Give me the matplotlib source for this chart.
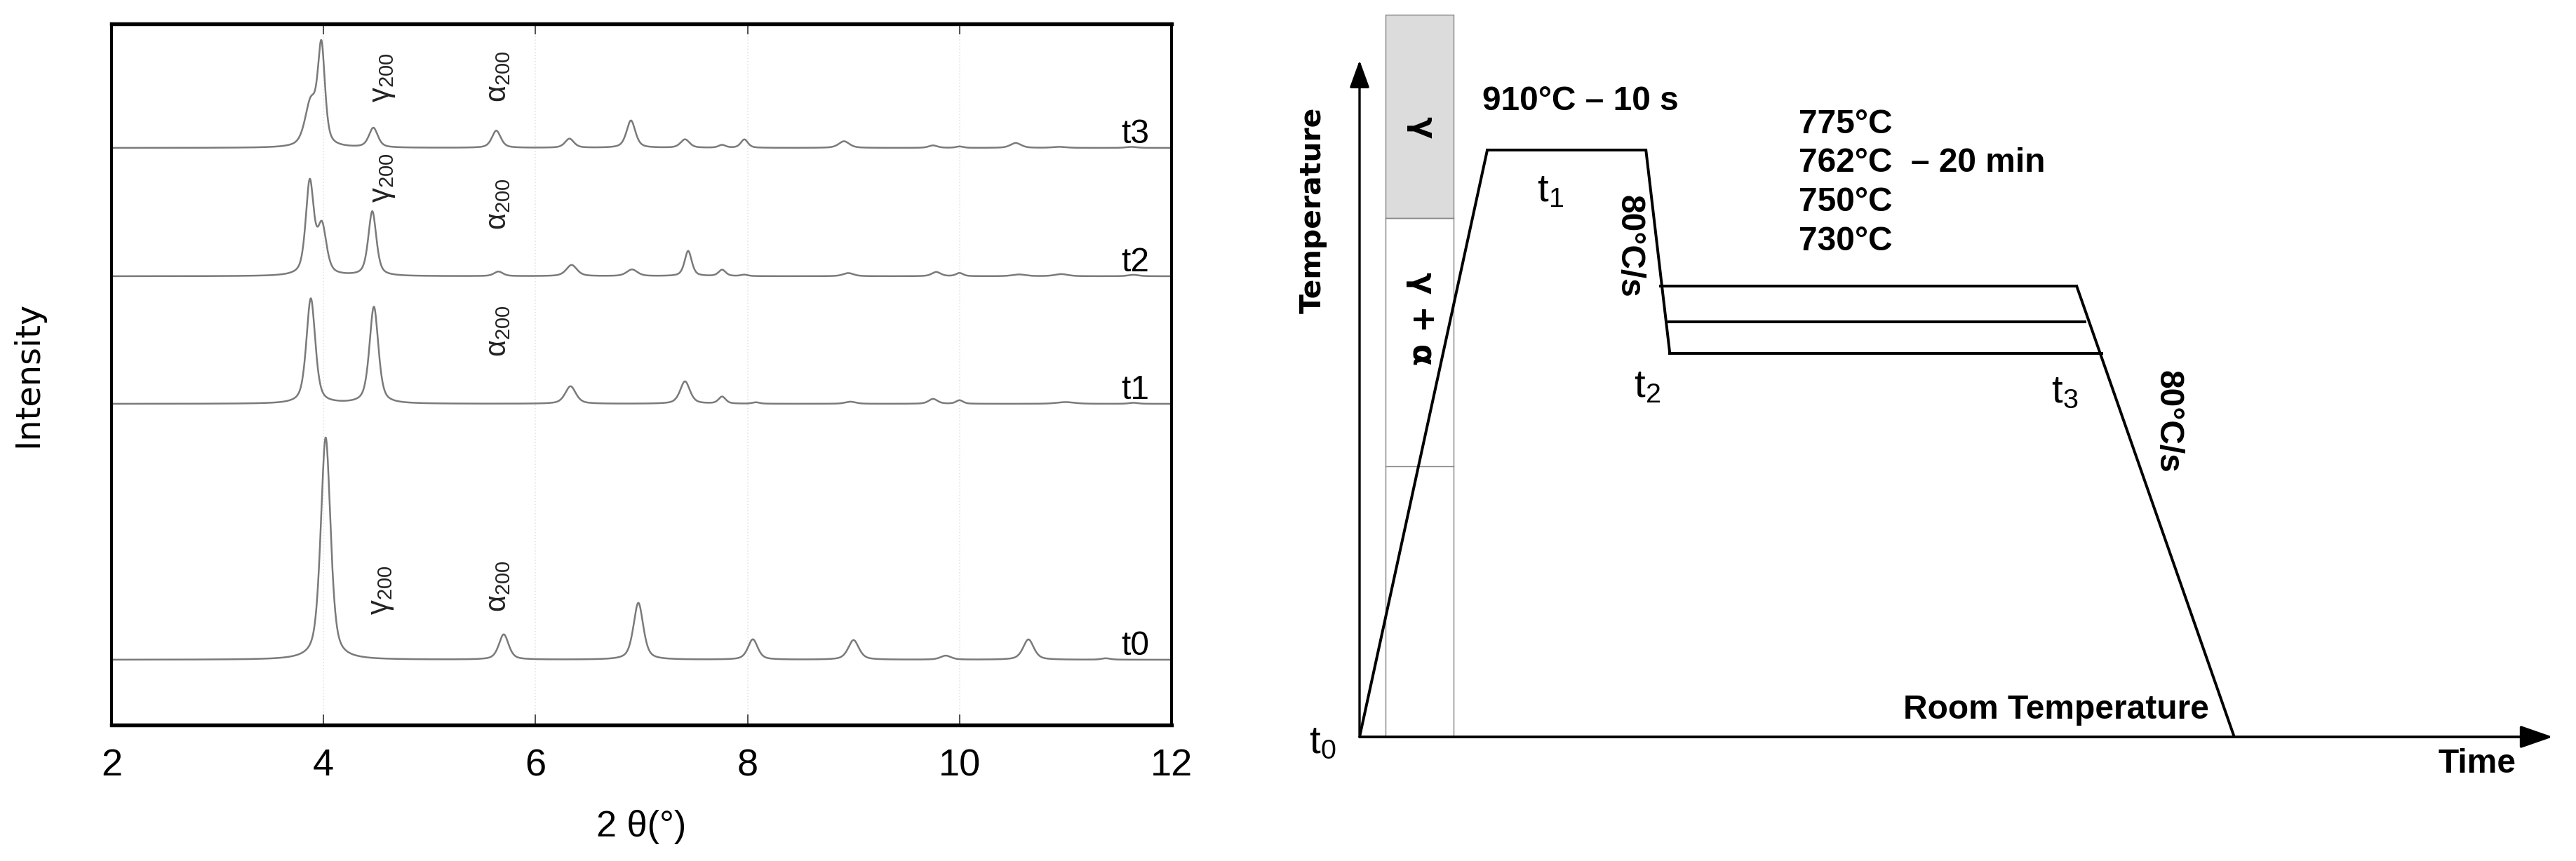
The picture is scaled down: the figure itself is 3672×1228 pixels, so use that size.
"""
XRD patterns at t0..t3 (left) and the heat-treatment schedule (right)
"""

import numpy as np
import matplotlib
matplotlib.use("Agg")
import matplotlib.pyplot as plt
from matplotlib.patches import Rectangle

plt.rcParams['font.family'] = ['Liberation Sans', 'DejaVu Sans']

# ---- left panel: diffraction patterns (peak table) ----
# intensity in plot units, 2theta in degrees
t0_pos = [4.02, 5.70, 6.97, 8.05, 9.00, 9.87, 10.65, 11.38]
t0_hgt = [317, 36, 81, 29, 28, 5.7, 29, 2]
t0_fwhm = [0.11, 0.11, 0.11, 0.11, 0.12, 0.12, 0.12, 0.10]

t1_pos = [3.88, 4.475, 6.33, 7.41, 7.76, 8.08, 8.97, 9.75, 10.0, 11.0, 11.64]
t1_hgt = [150, 138, 25, 32, 10, 2, 3, 7, 5, 2.5, 1.5]
t1_fwhm = [0.10, 0.10, 0.12, 0.11, 0.08, 0.08, 0.12, 0.10, 0.08, 0.20, 0.10]

t2_pos = [3.87, 3.985, 4.46, 5.65, 6.34, 6.91, 7.44, 7.76, 7.97, 8.95, 9.78, 10.0, 10.56, 10.96, 11.64]
t2_hgt = [132, 68, 92, 6.5, 16, 9.5, 36, 9, 2, 4.5, 6, 4.5, 2.5, 3, 2]
t2_fwhm = [0.09, 0.10, 0.09, 0.10, 0.12, 0.12, 0.08, 0.08, 0.08, 0.12, 0.10, 0.08, 0.15, 0.15, 0.12]

t3_pos = [3.88, 3.98, 4.47, 5.63, 6.32, 6.90, 7.41, 7.76, 7.97, 8.91, 9.75, 10.0, 10.53, 10.94, 11.62]
t3_hgt = [62, 138, 28, 24.5, 13, 39, 12, 4, 12, 9.5, 3.5, 2, 7, 1.5, 1.5]
t3_fwhm = [0.13, 0.08, 0.10, 0.10, 0.10, 0.10, 0.10, 0.08, 0.08, 0.12, 0.10, 0.08, 0.12, 0.15, 0.12]

trace_names = ['t0', 't1', 't2', 't3']
trace_offsets = [93, 458, 640, 823]

# peak labels: (text, 2theta, bottom of label) per trace
peak_labels = [
    ('γ', 4.55, 157), ('α', 5.65, 161),
    ('α', 5.65, 525),
    ('γ', 4.56, 745), ('α', 5.65, 706),
    ('γ', 4.56, 888), ('α', 5.65, 888),
]

# ---- right panel: schedule in schematic units (time, temperature level) ----
room_level = 0
peak_level = 86.7            # 910 C
heat_end = 10.7
hold_end = 24.0
iso_levels = [66.6, 61.3, 56.7]
iso_start = [25.2, 25.9, 26.0]
iso_end = [60.1, 60.8, 62.2]
final_end = 73.3
temp_labels = ['775°C', '762°C  – 20 min', '750°C', '730°C']
phase_left, phase_right = 2.2, 7.9
phase_top, phase_gamma_bottom, phase_mid_line = 106.7, 76.7, 40.0

two_theta = np.linspace(2, 12, 5001)


def pattern(pos, hgt, fwhm, eta=0.55):
    """pseudo-Voigt sum for a list of peaks"""
    y = np.zeros_like(two_theta)
    for p, h, w in zip(pos, hgt, fwhm):
        dx = (two_theta - p) / (w / 2)
        y += h * (eta / (1 + dx ** 2) + (1 - eta) * np.exp(-np.log(2) * dx ** 2))
    return y


fig = plt.figure(figsize=(12.24, 1228 / 300), dpi=300)

# left axes
ax = fig.add_axes([159 / 3672, 194 / 1228, 1511 / 3672, 1000 / 1228])
traces = [(t0_pos, t0_hgt, t0_fwhm), (t1_pos, t1_hgt, t1_fwhm),
          (t2_pos, t2_hgt, t2_fwhm), (t3_pos, t3_hgt, t3_fwhm)]
for (pos, hgt, fw), name, off in zip(traces, trace_names, trace_offsets):
    ax.plot(two_theta, pattern(pos, hgt, fw) + off, color='#7a7a7a', lw=0.6)
    ax.text(11.79, off + 7, name, ha='right', va='baseline', fontsize=11.5)

for sym, x, yb in peak_labels:
    ax.text(x, yb, r'$\mathdefault{%s_{200}}$' % sym, rotation=90, ha='center',
            va='bottom', fontsize=10, color='#222222')

ax.set_xlim(2, 12)
ax.set_ylim(0, 1000)
ax.set_xticks([2, 4, 6, 8, 10, 12])
ax.set_yticks([])
ax.tick_params(axis='x', direction='in', top=True, length=3.6, width=0.4,
               labelsize=13, pad=8, color='#333333')
for gx in [4, 6, 8, 10]:
    ax.axvline(gx, color='#e4e4e4', lw=0.4, ls=':', zorder=0)
for side in ['top', 'bottom']:
    ax.spines[side].set_linewidth(1.3)
for side in ['left', 'right']:
    ax.spines[side].set_linewidth(1.0)
ax.set_xlabel('2 θ(°)', fontsize=12.5, labelpad=9)
ax.set_ylabel('Intensity', fontsize=11.5, family='DejaVu Sans', labelpad=23)

# right axes (schematic)
ax2 = fig.add_axes([1938 / 3672, 177 / 1228, 1701 / 3672, 965 / 1228])
ax2.set_xlim(0, 100)
ax2.set_ylim(0, 100)
ax2.axis('off')

ax2.add_patch(Rectangle((phase_left, phase_gamma_bottom), phase_right - phase_left,
                        phase_top - phase_gamma_bottom, facecolor='#dcdcdc',
                        edgecolor='#888888', lw=0.35, clip_on=False, zorder=1))
ax2.add_patch(Rectangle((phase_left, room_level), phase_right - phase_left,
                        phase_gamma_bottom - room_level, facecolor='none',
                        edgecolor='#888888', lw=0.35, clip_on=False, zorder=1))
ax2.plot([phase_left, phase_right], [phase_mid_line] * 2, color='#888888', lw=0.35)

# axes arrows
ax2.annotate('', xy=(0, 100), xytext=(0, 0),
             arrowprops=dict(arrowstyle='-|>,head_length=8,head_width=2.9',
                             mutation_scale=1, lw=0.8, color='k', shrinkA=0, shrinkB=0))
ax2.annotate('', xy=(100, 0), xytext=(0, 0),
             arrowprops=dict(arrowstyle='-|>,head_length=9.5,head_width=3.3',
                             mutation_scale=1, lw=0.9, color='k', shrinkA=0, shrinkB=0))

lw = 0.95
ax2.plot([0, heat_end], [room_level, peak_level], color='k', lw=lw, zorder=3)
ax2.plot([heat_end, hold_end], [peak_level, peak_level], color='k', lw=lw, zorder=3)
ax2.plot([hold_end, iso_start[-1]], [peak_level, iso_levels[-1]], color='k', lw=lw, zorder=3,
         solid_joinstyle='miter')
for s, e, lv in zip(iso_start, iso_end, iso_levels):
    ax2.plot([s, e], [lv, lv], color='k', lw=lw, zorder=3)
ax2.plot([iso_end[0], final_end], [iso_levels[0], room_level], color='k', lw=lw, zorder=3)

bold = dict(fontsize=11.5, fontweight='bold')
ax2.text(10.3, 93.9, '910°C – 10 s', ha='left', va='center', **bold)
for lab, yy in zip(temp_labels, [90.5, 84.8, 79.0, 73.2]):
    ax2.text(36.8, yy, lab, ha='left', va='center', **bold)
ax2.text(71.2, 4.0, 'Room Temperature', ha='right', va='center', **bold)
ax2.text(96.9, -4.0, 'Time', ha='right', va='center', **bold)
ax2.text(-3.9, 77.8, 'Temperature', rotation=90, ha='center', va='center',
         fontsize=9.8, fontweight='bold', family='DejaVu Sans')
ax2.text(22.6, 72.5, '80°C/s', rotation=-90, ha='center', va='center', **bold)
ax2.text(67.7, 46.6, '80°C/s', rotation=-90, ha='center', va='center', **bold)
ax2.text(5.2, 90.1, 'γ', rotation=-90, ha='center', va='center',
         fontsize=11, fontweight='bold', family='DejaVu Sans')
ax2.text(5.2, 61.8, 'γ + α', rotation=-90, ha='center', va='center',
         fontsize=11, fontweight='bold', family='DejaVu Sans')

for lab, x, y in [('1', 16.0, 80.6), ('2', 24.1, 51.7), ('3', 59.1, 50.9), ('0', -3.1, -1.0)]:
    ax2.text(x, y, r'$\mathdefault{t_%s}$' % lab, ha='center', va='center', fontsize=13.5)

fig.savefig('out.png', dpi=300)
